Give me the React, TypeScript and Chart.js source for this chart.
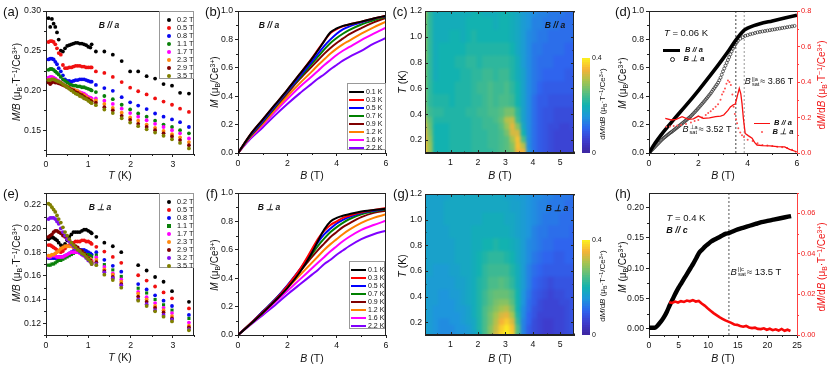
import React, { useEffect, useRef } from "react";
import { Chart, registerables } from "chart.js";
Chart.register(...registerables);

const FONT = "'Liberation Sans', Arial, sans-serif";
Chart.defaults.font.family = FONT;
Chart.defaults.color = "#111";

// ---------- panel (a) M/B vs T, B // a ----------
const tempA = [.06,.1,.14,.18,.22,.26,.3,.35,.4,.45,.5,.55,.6,.65,.7,.75,.8,.85,.9,.95,1,1.05,1.08,1.18,1.38,1.58,1.79,1.99,2.18,2.38,2.58,2.78,2.98,3.17,3.38];
const a02 = [.291,.28,.29,.284,.28,.273,.264,.25,.249,.253,.256,.257,.258,.259,.26,.26,.259,.259,.258,.257,.255,.254,.258,.249,.249,.245,.237,.224,.224,.218,.215,.208,.206,.197,.196];
const a05 = [.261,.262,.262,.261,.258,.253,.247,.245,.232,.228,.228,.229,.229,.23,.231,.231,.231,.23,.23,.229,.229,.229,.229,.224,.222,.217,.2105,.2035,.199,.195,.19,.186,.182,.177,.173];
const a08 = [.239,.24,.24,.239,.236,.233,.228,.224,.219,.214,.212,.212,.211,.212,.213,.213,.214,.214,.214,.213,.212,.211,.211,.207,.203,.1995,.1915,.185,.181,.1765,.171,.167,.1635,.16,.154];
const a11 = [.226,.227,.227,.226,.224,.222,.22,.217,.214,.212,.21,.208,.207,.206,.206,.205,.205,.204,.204,.203,.202,.201,.2,.198,.193,.189,.182,.176,.171,.167,.162,.157,.154,.15,.146];
const a17 = [.216,.217,.217,.216,.215,.213,.212,.21,.208,.206,.204,.203,.202,.2,.2,.199,.198,.197,.196,.194,.192,.191,.19,.19,.187,.183,.177,.1715,.167,.1625,.158,.154,.15,.146,.1395];
const a23 = [.213,.213,.214,.213,.212,.211,.21,.209,.207,.206,.205,.203,.202,.201,.2,.199,.197,.195,.194,.192,.19,.188,.187,.1875,.183,.178,.172,.166,.162,.157,.153,.149,.145,.141,.135];
const a29 = [.21,.208,.21,.211,.21,.21,.209,.208,.207,.206,.204,.203,.201,.2,.198,.197,.195,.194,.192,.19,.189,.187,.186,.1845,.179,.175,.168,.163,.158,.154,.15,.146,.142,.1375,.131];
const a35 = [.213,.213,.214,.214,.213,.212,.211,.21,.208,.206,.204,.202,.2,.198,.196,.195,.193,.192,.19,.189,.187,.185,.184,.1815,.176,.1715,.165,.1595,.155,.151,.147,.143,.1385,.134,.127];
const aLabels = ["0.2 T","0.5 T","0.8 T","1.1 T","1.7 T","2.3 T","2.9 T","3.5 T"];
const aSeries = [a02,a05,a08,a11,a17,a23,a29,a35];
const aColors = ["#000000","#f01010","#0808f0","#0a800a","#ff00ff","#ff8a10","#800000","#808000"];

// ---------- panel (e) M/B vs T, B perp a ----------
const tempE = [.06,.1,.14,.18,.22,.26,.3,.35,.4,.45,.5,.55,.6,.65,.7,.75,.8,.85,.9,.95,1,1.05,1.08,1.19,1.38,1.58,1.78,2.18,2.38,2.58,2.78,2.98,3.38];
const e02 = [.191,.192,.193,.192,.191,.19,.188,.186,.185,.187,.19,.193,.195,.197,.197,.197,.197,.198,.199,.199,.198,.197,.196,.193,.188,.185,.18,.169,.1645,.159,.155,.147,.138];
const e05 = [.186,.186,.185,.184,.183,.182,.181,.18,.181,.183,.185,.186,.187,.188,.189,.189,.189,.19,.19,.189,.189,.188,.187,.1845,.1805,.176,.171,.1605,.156,.151,.146,.141,.1325];
const e08 = [.175,.175,.175,.175,.175,.175,.176,.176,.176,.177,.178,.179,.18,.181,.181,.182,.182,.182,.182,.181,.18,.179,.178,.18,.1735,.1685,.1635,.153,.1485,.1435,.139,.1345,.127];
const e11 = [.169,.169,.17,.17,.171,.172,.173,.173,.174,.175,.176,.177,.178,.179,.18,.18,.18,.18,.179,.178,.178,.177,.176,.1775,.1695,.165,.1595,.1495,.1455,.14,.1355,.131,.124];
const e17 = [.176,.176,.177,.177,.177,.176,.176,.176,.176,.177,.178,.179,.18,.18,.18,.18,.179,.178,.177,.176,.175,.174,.173,.1755,.1675,.162,.157,.1465,.142,.137,.133,.1285,.1205];
const e23 = [.177,.177,.178,.178,.179,.18,.181,.183,.184,.185,.185,.185,.185,.184,.183,.182,.181,.18,.178,.177,.175,.174,.172,.1735,.1655,.161,.155,.145,.14,.1345,.131,.126,.118];
const e29 = [.193,.194,.195,.197,.198,.198,.197,.196,.194,.193,.191,.19,.188,.186,.185,.184,.182,.181,.179,.177,.175,.173,.171,.1715,.164,.159,.153,.1425,.138,.133,.129,.124,.1165];
const e32 = [.208,.209,.209,.209,.208,.206,.204,.2,.197,.194,.191,.189,.187,.185,.183,.182,.18,.178,.177,.175,.173,.172,.17,.17,.163,.158,.152,.14,.136,.131,.127,.123,.115];
const e35 = [.221,.22,.218,.216,.214,.211,.208,.205,.201,.197,.194,.191,.188,.186,.184,.182,.181,.179,.178,.176,.174,.172,.17,.169,.161,.1565,.15,.139,.1345,.13,.1255,.1215,.114];
const eLabels = ["0.2 T","0.5 T","0.8 T","1.1 T","1.7 T","2.3 T","2.9 T","3.2 T","3.5 T"];
const eSeries = [e02,e05,e08,e11,e17,e23,e29,e32,e35];
const eColors = ["#000000","#f01010","#0808f0","#0a800a","#ff00ff","#ff8a10","#800000","#8010f0","#808000"];

// ---------- panels (b), (f) M vs B ----------
const fieldGrid = [0,.5,1,1.5,2,2.5,3,3.25,3.5,3.75,4,4.25,4.5,5,5.5,6];
const bLabels = ["0.1 K","0.3 K","0.5 K","0.7 K","0.9 K","1.2 K","1.6 K","2.2 K"];
const lineColors = ["#000000","#ff0000","#0000ff","#008000","#800000","#ff8000","#ff00ff","#8000ff"];
const b01 = [0,.13,.235,.34,.445,.555,.665,.725,.79,.85,.877,.895,.905,.925,.947,.967];
const b03 = [0,.13,.235,.34,.445,.555,.668,.73,.79,.845,.873,.892,.905,.925,.947,.966];
const b05 = [0,.125,.225,.33,.435,.54,.645,.70,.755,.80,.84,.87,.89,.92,.945,.965];
const b07 = [0,.12,.22,.325,.43,.53,.63,.68,.73,.775,.81,.84,.865,.905,.935,.96];
const b09 = [0,.118,.215,.32,.42,.52,.61,.655,.70,.74,.775,.805,.835,.88,.92,.952];
const b12 = [0,.113,.205,.305,.40,.49,.575,.62,.66,.70,.735,.765,.79,.84,.885,.925];
const b16 = [0,.108,.195,.29,.38,.465,.54,.58,.62,.655,.69,.72,.745,.795,.84,.883];
const b22 = [0,.10,.18,.265,.345,.42,.49,.525,.555,.59,.62,.65,.675,.72,.77,.81];
const bSeries = [b01,b03,b05,b07,b09,b12,b16,b22];
const f01 = [0,.075,.155,.24,.33,.44,.58,.665,.745,.80,.825,.84,.85,.87,.88,.89];
const f03 = [0,.08,.16,.245,.345,.46,.605,.68,.735,.775,.80,.825,.84,.865,.88,.895];
const f05 = [0,.08,.165,.25,.35,.46,.59,.655,.71,.75,.785,.81,.83,.86,.875,.89];
const f07 = [0,.08,.165,.25,.345,.455,.57,.63,.68,.725,.76,.79,.815,.85,.87,.885];
const f09 = [0,.08,.16,.245,.34,.445,.55,.60,.645,.69,.725,.76,.785,.83,.86,.875];
const f12 = [0,.075,.155,.24,.33,.42,.51,.555,.60,.64,.675,.71,.74,.79,.825,.85];
const f16 = [0,.075,.15,.23,.31,.39,.47,.51,.55,.59,.625,.66,.69,.74,.775,.805];
const f22 = [0,.07,.14,.21,.285,.355,.425,.46,.50,.53,.565,.595,.625,.675,.71,.735];
const fSeries = [f01,f03,f05,f07,f09,f12,f16,f22];

// ---------- panel (d) ----------
const dParField = [0,.25,.5,1,1.5,2,2.5,3,3.25,3.5,3.7,3.86,4,4.25,4.5,5,5.5,6];
const dParM = [0,.07,.13,.235,.335,.44,.55,.665,.725,.79,.835,.865,.88,.897,.91,.93,.95,.97];
const dPerpField = [0,.05,.1,.15,.2,.25,.3,.35,.4,.45,.5,.55,.6,.65,.7,.75,.8,.85,.9,.95,1,1.05,1.1,1.15,1.2,1.25,1.3,1.35,1.4,1.45,1.5,1.55,1.6,1.65,1.7,1.75,1.8,1.85,1.9,1.95,2,2.05,2.1,2.15,2.2,2.25,2.3,2.35,2.4,2.45,2.5,2.55,2.6,2.65,2.7,2.75,2.8,2.85,2.9,2.95,3,3.05,3.1,3.15,3.2,3.25,3.3,3.35,3.4,3.45,3.5,3.55,3.6,3.7,3.8,3.9,4,4.1,4.2,4.3,4.4,4.5,4.6,4.7,4.8,4.9,5,5.1,5.2,5.3,5.4,5.5,5.6,5.7,5.8,5.9];
const dPerpM = [0,.009,.018,.027,.036,.045,.054,.063,.072,.081,.09,.098,.106,.113,.12,.127,.134,.141,.147,.153,.16,.167,.174,.181,.188,.195,.202,.209,.216,.223,.23,.237,.245,.252,.26,.269,.278,.287,.297,.306,.316,.326,.336,.346,.356,.366,.377,.387,.398,.409,.42,.432,.445,.457,.47,.482,.495,.512,.53,.552,.575,.595,.615,.635,.655,.675,.695,.715,.735,.75,.765,.778,.79,.805,.815,.825,.83,.836,.84,.845,.85,.853,.856,.859,.862,.865,.868,.871,.874,.877,.88,.883,.886,.889,.892,.895];
const dLineField = [.66,.9,1.1,1.34,1.6,1.8,2,2.2,2.45,2.7,2.9,3.03,3.2,3.3,3.42,3.5,3.58,3.66,3.72,3.77,3.83,3.9,4.02,4.18,4.28,4.38,4.6,4.9,5.2,5.5,5.7,5.98];
const dLineDmdb = [.195,.186,.19,.205,.19,.192,.208,.195,.198,.205,.208,.214,.24,.26,.272,.276,.32,.364,.335,.28,.19,.11,.098,.083,.06,.045,.042,.04,.036,.034,.02,.007];
const dDotField = [.7,.85,1,1.15,1.3,1.5,1.7,1.85,2,2.15,2.3,2.4,2.5,2.6,2.7,2.8,2.9,2.96,3.02,3.08,3.14,3.2,3.26,3.32,3.38,3.43,3.48,3.53,3.57,3.62,3.7,3.77,3.85,4,4.2,4.4,4.6,4.8,5,5.2,5.4,5.6,5.8,5.95];
const dDotDmdb = [.148,.15,.152,.155,.158,.163,.172,.18,.186,.2,.214,.225,.235,.248,.26,.275,.30,.33,.345,.364,.39,.408,.40,.383,.33,.26,.22,.19,.167,.14,.115,.10,.09,.075,.068,.055,.045,.042,.04,.035,.032,.028,.018,.007];

// ---------- panel (h) ----------
const hField = [0,.5,1,1.3,2,2.5,3,3.5,4,4.5,5,5.5,6,6.5,7,7.5,8,8.5,9,9.5,10,10.5,11,12,13,13.5,14,15,16,17,18,19,20,21,22,23,24];
const hM = [.002,.002,.002,.004,.012,.019,.028,.039,.049,.059,.068,.076,.084,.092,.10,.108,.117,.126,.131,.136,.14,.144,.147,.152,.157,.158,.16,.164,.167,.17,.173,.176,.178,.18,.182,.184,.186];
const hDmdbField = [3.4,3.9,4.4,4.9,5.4,5.9,6.4,6.9,7.4,7.9,8.4,8.9,9.4,9.9,10.4,10.9,11.4,11.9,12.4,12.9,13.4,13.9,14.4,14.9,15.4,15.9,16.4,16.9,17.4,17.9,18.4,18.9,19.4,19.9,20.4,20.9,21.4,21.9,22.4,22.9,23.4,23.9];
const hDmdb = [.0162,.0158,.0165,.016,.0167,.0163,.017,.0166,.0172,.0165,.0168,.0155,.0145,.0132,.012,.0108,.0098,.0088,.008,.0072,.0066,.006,.0052,.005,.0044,.0041,.0045,.0037,.0034,.0036,.003,.0029,.0033,.0026,.0031,.0024,.0028,.0022,.003,.0021,.0026,.002];

// ---------- heatmaps (c), (g): dM/dB x 100 ----------
const mapField = [.1,.3,.5,.7,.9,1.1,1.3,1.5,1.7,1.9,2.1,2.3,2.5,2.7,2.9,3.1,3.3,3.5,3.7,3.9,4.1,4.3,4.5,4.7,4.9,5.1,5.3,5.5];
const mapTemp = [.1,.15,.2,.25,.3,.35,.4,.5,.6,.7,.8,.9,1,1.1,1.2];
const mapC = [
  [36,29,20,20,20,21,21,21,21,22,22,22,22,23,24,25,27,35,35,15,11,9,8,7,6,6,6,6],
  [36,29,20,20,20,21,21,21,21,22,22,22,23,23,24,25,28,36,31,14,11,9,8,7,6,6,6,6],
  [35,28,20,20,20,21,21,21,21,22,22,22,23,23,24,25,30,36,24,14,11,9,8,7,6,6,6,6],
  [34,27,20,20,20,21,21,21,21,22,22,22,23,23,24,27,33,33,20,14,11,9,8,7,6,6,6,6],
  [33,26,20,20,20,21,21,21,21,22,22,23,23,23,25,29,34,28,18,14,11,9,8,7,7,6,6,7],
  [31,25,21,21,21,21,21,21,21,22,22,23,23,24,26,31,32,23,17,14,11,9,8,8,7,7,7,7],
  [28,23,22,22,21,21,21,21,22,22,23,23,24,24,25,27,27,22,17,14,11,9,8,8,7,7,7,7],
  [27,22,21,21,21,20,21,21,21,22,22,23,24,23,24,24,23,20,17,14,11,9,9,8,8,8,8,8],
  [27,22,20,20,20,20,21,21,21,22,23,23,24,23,23,24,22,20,17,14,12,10,9,9,9,9,9,9],
  [27,22,19,20,20,20,20,21,21,22,22,23,23,22,23,23,21,19,17,14,12,11,10,10,10,10,9,9],
  [28,22,19,20,20,20,21,21,22,22,21,22,22,22,22,22,21,19,16,14,12,11,11,11,10,10,10,10],
  [28,22,19,20,20,20,20,20,21,21,21,21,21,21,21,21,20,18,16,14,12,12,11,11,11,11,10,10],
  [28,22,19,19,19,20,20,19,20,21,20,20,20,20,20,20,19,18,16,14,13,12,12,11,11,11,11,11],
  [28,22,19,19,19,19,19,19,20,20,20,20,20,19,20,20,19,18,16,15,13,13,12,12,12,11,11,11],
  [29,22,19,19,19,19,19,19,19,20,20,19,19,19,20,20,19,18,16,15,14,13,13,12,12,12,11,11],
];
const mapG = [
  [17,16,15,14,14,14,15,15,16,17,20,24,28,33,38,40,37,24,13,9,7,6,5,5,6,6,7,8],
  [17,16,15,14,14,14,15,15,16,18,21,24,28,32,37,39,36,24,13,9,7,6,5,5,6,6,7,8],
  [17,16,15,14,14,15,15,16,17,18,21,24,27,31,35,37,33,22,13,10,7,6,5,5,6,6,7,8],
  [17,16,15,15,15,15,15,16,17,19,21,24,27,30,33,34,30,21,14,10,8,6,6,6,6,6,7,8],
  [17,16,15,15,15,15,16,16,17,19,21,24,26,28,30,31,27,20,14,11,8,7,6,6,6,6,7,8],
  [17,16,16,15,15,15,16,17,18,19,21,23,25,27,28,28,25,20,15,11,9,7,6,6,6,7,7,8],
  [17,16,16,15,15,16,16,17,18,19,21,23,25,26,26,26,24,20,15,12,9,8,7,6,7,7,8,8],
  [17,16,16,16,16,16,17,17,18,19,21,22,24,24,25,24,22,19,16,13,10,9,8,7,8,8,8,8],
  [17,17,16,16,16,17,17,18,18,19,20,22,23,23,23,23,21,19,16,13,11,10,9,9,9,9,9,9],
  [17,17,17,17,17,17,18,18,18,19,20,21,22,22,22,21,20,18,16,14,12,11,10,10,9,9,10,10],
  [17,17,17,17,17,17,18,18,18,19,19,20,20,21,20,20,19,18,16,14,13,12,11,11,10,10,10,10],
  [17,17,17,17,17,18,18,18,18,19,19,19,19,19,19,19,18,17,16,15,13,12,12,11,11,11,11,10],
  [17,17,17,17,18,18,18,18,18,18,18,19,19,19,19,18,18,17,16,15,14,13,12,12,12,11,11,11],
  [17,17,17,17,18,18,18,18,18,18,18,18,18,18,18,18,17,17,16,15,14,13,13,12,12,12,11,11],
  [17,17,17,17,17,18,18,18,18,18,18,18,18,18,18,17,17,16,16,15,14,14,13,13,12,12,12,11],
];

// colour map stops: [value, r, g, b]
const cmap = [[0,62,38,160],[5,62,60,205],[10,47,100,238],[15,30,150,220],[20,18,178,176],[25,88,190,128],[30,165,196,80],[35,246,178,56],[40,252,244,30]];
function colorOf(v: number) {
  for (let i = 1; i < cmap.length; i++) {
    if (v <= cmap[i][0]) {
      const a = cmap[i - 1], b = cmap[i], t = (v - a[0]) / (b[0] - a[0]);
      return `rgb(${a[1] + t * (b[1] - a[1])},${a[2] + t * (b[2] - a[2])},${a[3] + t * (b[3] - a[3])})`;
    }
  }
  return "rgb(252,244,30)";
}
const barLevels = [0,1,2,3,4,5,6,7,8,9,10,11,12,13,14,15,16,17,18,19,20,21,22,23,24,25,26,27,28,29,30,31,32,33,34,35,36,37,38,39];

// ---------- axis ticks ----------
const TICK = { size: 8.7 };
const TICK_RIGHT = { size: 7.4 };
const INK = "#222";
const RED = "#ff4040";

function minorOf(major: number[], min: number, max: number) {
  const step = (major[1] - major[0]) / 2, out: number[] = [];
  for (let v = major[0] - step; v >= min - 1e-9; v -= step * 2) out.push(v);
  major.forEach((m) => { if (m + step <= max + 1e-9) out.push(m + step); });
  return out;
}

function axis(min: number, max: number, major: number[], digits: number, extra: any = {}) {
  const color = extra.color || "#111";
  const tickColor = extra.tickColor || INK;
  return {
    type: "linear", min, max,
    afterBuildTicks: (s: any) => { s.ticks = major.map((value) => ({ value })); },
    afterFit: (s: any) => { if (extra.h !== undefined) s.height = extra.h; if (extra.w !== undefined) s.width = extra.w; },
    ticks: { callback: (v: number) => (v === 0 && extra.zero) ? "0" : v.toFixed(digits), autoSkip: false, maxRotation: 0, padding: extra.padding ?? 2, font: extra.font || TICK, color },
    grid: { drawOnChartArea: false, drawTicks: !extra.inside, tickLength: 3, tickColor, lineWidth: 1 },
    border: { color: tickColor, width: 1 },
  };
}

// Frame, minor ticks and the smoothing of the raster cells.
function framePlugin(cfg: any) {
  return {
    id: "frame",
    afterDatasetsDraw(chart: any) {
      if (!cfg.blur) return;
      const { left, top, width, height } = chart.chartArea, ctx = chart.ctx;
      ctx.save();
      ctx.beginPath(); ctx.rect(left, top, width, height); ctx.clip();
      ctx.filter = `blur(${cfg.blur}px)`;
      ctx.drawImage(chart.canvas, left, top, width, height, left, top, width, height);
      ctx.restore();
    },
    afterDraw(chart: any) {
      const { left, right, top, bottom } = chart.chartArea, ctx = chart.ctx;
      const seg = (x0: number, y0: number, x1: number, y1: number, col: string) => {
        ctx.strokeStyle = col; ctx.beginPath(); ctx.moveTo(x0, y0); ctx.lineTo(x1, y1); ctx.stroke();
      };
      ctx.save(); ctx.lineWidth = 1;
      const xs = chart.scales.x, ys = chart.scales.y, yr = chart.scales.y2;
      const xm = xs.ticks.map((t: any) => t.value), ym = ys.ticks.map((t: any) => t.value);
      minorOf(xm, xs.min, xs.max).forEach((v) => {
        const p = Math.round(xs.getPixelForValue(v)) + .5;
        if (cfg.inside) { seg(p, bottom, p, bottom - 1.5, INK); seg(p, top, p, top + 1.5, INK); }
        else seg(p, bottom, p, bottom + 2, INK);
      });
      minorOf(ym, ys.min, ys.max).forEach((v) => {
        const p = Math.round(ys.getPixelForValue(v)) + .5;
        if (cfg.inside) { seg(left, p, left + 1.5, p, INK); seg(right, p, right - 1.5, p, INK); }
        else seg(left, p, left - 2, p, INK);
      });
      if (cfg.inside) {
        xm.forEach((v: number) => { const p = Math.round(xs.getPixelForValue(v)) + .5; seg(p, bottom, p, bottom - 3, INK); seg(p, top, p, top + 3, INK); });
        ym.forEach((v: number) => { const p = Math.round(ys.getPixelForValue(v)) + .5; seg(left, p, left + 3, p, INK); seg(right, p, right - 3, p, INK); });
      }
      if (yr) {
        minorOf(yr.ticks.map((t: any) => t.value), yr.min, yr.max).forEach((v) => {
          const p = Math.round(yr.getPixelForValue(v)) + .5;
          seg(right, p, right + 2, p, RED);
        });
      }
      seg(left, top + .5, right, top + .5, INK);
      if (!yr) seg(right - .5, top, right - .5, bottom, INK);
      if (cfg.inside) { seg(left + .5, top, left + .5, bottom, INK); seg(left, bottom - .5, right, bottom - .5, INK); }
      ctx.restore();
    },
  };
}

const pairs = (xs: number[], ys: number[]) => xs.map((x, i) => ({ x, y: ys[i] }));

function box(L: number, R: number, T: number, B: number, rightW = 8) {
  const cx = L - 42, cy = T - 10, cw = R - L + 42 + rightW, ch = B - T + 10 + 22;
  return { L, R, T, B, cx, cy, cw, ch, yw: 42, xh: 22, rightW };
}

function scatterPanel(b: any, xs: number[], series: number[][], labels: string[], colors: string[], xa: any, ya: any, rectIndex = -1) {
  const n = series.length;
  return {
    type: "scatter",
    data: {
      datasets: series.map((s, i) => ({
        label: labels[i], data: pairs(xs, s), backgroundColor: colors[i], borderColor: colors[i],
        pointRadius: i === rectIndex ? 2.2 : 1.9, pointBorderWidth: 0, pointStyle: i === rectIndex ? "rect" : "circle", order: n - i,
      })),
    },
    options: {
      responsive: false, animation: false, events: [],
      layout: { padding: { top: 10, right: b.rightW, left: 0, bottom: 0 } },
      scales: { x: axis(xa.min, xa.max, xa.major, 0, { h: b.xh }), y: axis(ya.min, ya.max, ya.major, ya.digits, { w: b.yw }) },
      plugins: { tooltip: { enabled: false }, legend: { display: false } },
    },
    plugins: [framePlugin({})],
  };
}

function linePanel(b: any, series: number[][], ticksY: number[]) {
  return {
    type: "line",
    data: {
      datasets: series.map((s, i) => ({
        label: bLabels[i], data: pairs(fieldGrid, s), borderColor: lineColors[i], backgroundColor: lineColors[i],
        borderWidth: 2, pointRadius: 0, cubicInterpolationMode: "monotone", fill: false,
      })),
    },
    options: {
      responsive: false, animation: false, events: [],
      layout: { padding: { top: 10, right: b.rightW } },
      scales: { x: axis(0, 6, [0,2,4,6], 0, { h: b.xh }), y: axis(0, 1, ticksY, 1, { w: b.yw }) },
      plugins: { tooltip: { enabled: false }, legend: { display: false } },
    },
    plugins: [framePlugin({})],
  };
}

function heatPanel(b: any, grid: number[][]) {
  const edge = (i: number) => i === 0 ? .05 : (mapTemp[i] + mapTemp[i - 1]) / 2;
  return {
    type: "bar",
    data: {
      datasets: grid.map((row, i) => ({
        label: "T " + mapTemp[i],
        data: row.map((_v, j) => ({ x: mapField[j], y: [edge(i), i === mapTemp.length - 1 ? 1.25 : edge(i + 1)] })),
        backgroundColor: row.map((v) => colorOf(v)),
        borderWidth: 0, grouped: false, barThickness: 7, inflateAmount: .6,
      })),
    },
    options: {
      responsive: false, animation: false, events: [],
      layout: { padding: { top: 10, right: b.rightW } },
      scales: {
        x: { ...axis(.07, 5.5, [1,2,3,4,5], 0, { h: b.xh, inside: true, padding: 4 }), offset: false },
        y: axis(.1, 1.2, [.2,.4,.6,.8,1,1.2], 1, { w: b.yw, inside: true, padding: 3 }),
      },
      plugins: { tooltip: { enabled: false }, legend: { display: false } },
    },
    plugins: [framePlugin({ inside: true, blur: 1.6 })],
  };
}

function colorBar(b: any) {
  return {
    type: "bar",
    data: {
      labels: ["dM/dB"],
      datasets: barLevels.map((v) => ({
        label: String(v), data: [[v / 100, (v + 1) / 100]], backgroundColor: colorOf(v + .5), borderWidth: 0,
        grouped: false, barPercentage: 1, categoryPercentage: 1, inflateAmount: .5,
      })),
    },
    options: {
      responsive: false, animation: false, events: [],
      layout: { padding: { top: 10, bottom: 10, left: 2, right: 0 } },
      scales: {
        x: { display: false },
        y: { ...axis(0, .4, [0,.4], 1, { zero: true, w: 16, padding: 2, font: { size: 7 } }), position: "right",
             grid: { display: false, drawTicks: false }, border: { display: false } },
      },
      plugins: { tooltip: { enabled: false }, legend: { display: false } },
    },
  };
}

const PANELS: { b: any; cfg: (b: any) => any }[] = [
  { b: box(46, 194, 11, 154), cfg: (b) => scatterPanel(b, tempA, aSeries, aLabels, aColors,
      { min: 0, max: 3.5, major: [0,1,2,3] }, { min: .12, max: .3, major: [.15,.2,.25,.3], digits: 2 }) },
  { b: box(238, 386, 11, 153), cfg: (b) => linePanel(b, bSeries, [0,.2,.4,.6,.8,1]) },
  { b: box(425, 574, 11, 153), cfg: (b) => heatPanel(b, mapC) },
  { b: box(46, 194, 193, 335), cfg: (b) => scatterPanel(b, tempE, eSeries, eLabels, eColors,
      { min: 0, max: 3.5, major: [0,1,2,3] }, { min: .11, max: .23, major: [.12,.14,.16,.18,.2,.22], digits: 2 }, 3) },
  { b: box(238, 386, 193, 335), cfg: (b) => linePanel(b, fSeries, [0,.2,.4,.6,.8,1]) },
  { b: box(425, 574, 194, 335), cfg: (b) => heatPanel(b, mapG) },
  { b: box(649, 797, 11, 153, 26), cfg: (b) => ({
      type: "scatter",
      data: { datasets: [
        { label: "3.52", data: [{ x: 3.52, y: 0 }, { x: 3.52, y: 1 }], showLine: true, borderColor: "#444", borderWidth: 1, borderDash: [2, 2], pointRadius: 0, order: 5 },
        { label: "3.86", data: [{ x: 3.86, y: 0 }, { x: 3.86, y: 1 }], showLine: true, borderColor: "#999", borderWidth: 1, borderDash: [2, 2], pointRadius: 0, order: 5 },
        { label: "B // a", data: pairs(dParField, dParM), showLine: true, borderColor: "#000", borderWidth: 3.6, pointRadius: 0, cubicInterpolationMode: "monotone", yAxisID: "y", order: 2 },
        { label: "B ⊥ a", data: pairs(dPerpField, dPerpM), showLine: false, borderColor: "#222", backgroundColor: "rgba(255,255,255,0)", pointBorderWidth: .7, pointRadius: 1.5, yAxisID: "y", order: 3 },
        { label: "dM/dB // a", data: pairs(dLineField, dLineDmdb), showLine: true, borderColor: "#f81010", borderWidth: 1.3, pointRadius: 0, yAxisID: "y2", order: 0 },
        { label: "dM/dB ⊥ a", data: pairs(dDotField, dDotDmdb), showLine: false, backgroundColor: "#ff5050", pointBorderWidth: 0, pointRadius: 1, yAxisID: "y2", order: 1 },
      ] },
      options: {
        responsive: false, animation: false, events: [],
        layout: { padding: { top: 10 } },
        scales: {
          x: axis(0, 6, [0,2,4,6], 0, { h: b.xh }),
          y: axis(0, 1, [0,.2,.4,.6,.8,1], 1, { w: b.yw }),
          y2: { ...axis(0, .8, [0,.2,.4,.6,.8], 1, { w: 26, color: "#f01818", tickColor: RED, font: TICK_RIGHT, padding: 1 }), position: "right" },
        },
        plugins: { tooltip: { enabled: false }, legend: { display: false } },
      },
      plugins: [framePlugin({})],
    }) },
  { b: box(649, 797, 193, 335, 26), cfg: (b) => ({
      type: "scatter",
      data: { datasets: [
        { label: "13.5", data: [{ x: 13.5, y: -.01 }, { x: 13.5, y: .224 }], showLine: true, borderColor: "#555", borderWidth: 1, borderDash: [2, 2], pointRadius: 0, order: 5 },
        { label: "M", data: pairs(hField, hM), showLine: true, borderColor: "#000", borderWidth: 4.4, pointRadius: 0, cubicInterpolationMode: "monotone", yAxisID: "y", order: 2 },
        { label: "dM/dB", data: pairs(hDmdbField, hDmdb), showLine: true, borderColor: "#f80808", borderWidth: 2.6, pointRadius: 0, yAxisID: "y2", order: 1 },
      ] },
      options: {
        responsive: false, animation: false, events: [],
        layout: { padding: { top: 10 } },
        scales: {
          x: axis(0, 25, [0,5,10,15,20,25], 0, { h: b.xh }),
          y: axis(-.01, .224, [0,.05,.1,.15,.2], 2, { w: b.yw }),
          y2: { ...axis(0, .07, [0,.02,.04,.06], 2, { w: 26, color: "#f01818", tickColor: RED, font: TICK_RIGHT, padding: 1 }), position: "right" },
        },
        plugins: { tooltip: { enabled: false }, legend: { display: false } },
      },
      plugins: [framePlugin({})],
    }) },
  { b: { cx: 580, cy: 48, cw: 26, ch: 115 }, cfg: colorBar },
  { b: { cx: 580, cy: 230, cw: 26, ch: 115 }, cfg: colorBar },
];

function ChartCanvas({ b, cfg }: { b: any; cfg: (b: any) => any }) {
  const ref = useRef<HTMLCanvasElement>(null);
  useEffect(() => {
    const chart = new Chart(ref.current as any, cfg(b));
    return () => chart.destroy();
  }, []);
  return <canvas ref={ref} width={b.cw} height={b.ch} style={{ position: "absolute", left: b.cx, top: b.cy, width: b.cw, height: b.ch }} />;
}

// ---------- legends ----------
function Legend({ x, y, w, h, labels, colors, kind, swX, txtX, rowH, size, rectIndex = -1 }: any) {
  return (
    <div style={{ position: "absolute", left: x, top: y, width: w, height: h, border: "1px solid #999", boxSizing: "border-box" }}>
      {labels.map((t: string, i: number) => {
        const cy = 3.6 + rowH * i + (rowH - 8) / 2;
        return (
          <React.Fragment key={t}>
            {kind === "dot"
              ? <div style={{ position: "absolute", left: swX - 2, top: cy + 2, width: 4, height: 4, borderRadius: i === rectIndex ? 0 : "50%", background: colors[i] }} />
              : <div style={{ position: "absolute", left: swX, top: cy + 3, width: 15, height: 2, background: colors[i] }} />}
            <div style={{ position: "absolute", left: txtX, top: cy, fontFamily: FONT, fontSize: size, lineHeight: "8px", color: "#111", whiteSpace: "nowrap" }}>{t}</div>
          </React.Fragment>
        );
      })}
    </div>
  );
}

// ---------- text overlay ----------
const S = ({ children }: any) => <span style={{ fontSize: "68%", position: "relative", top: "0.28em" }}>{children}</span>;
const P = ({ children }: any) => <span style={{ fontSize: "68%", position: "relative", top: "-0.38em" }}>{children}</span>;
const I = ({ children }: any) => <i>{children}</i>;
const Sat = ({ up }: any) => (
  <span style={{ display: "inline-flex", flexDirection: "column", fontSize: "62%", lineHeight: "0.85em", verticalAlign: "middle", margin: "0 1px" }}>
    <span>{up}</span><span>sat</span>
  </span>
);

function T({ x, y, size = 10, rot = 0, color = "#111", bold = false, children }: any) {
  return (
    <div style={{
      position: "absolute", left: x, top: y, transform: `translate(-50%,-50%) rotate(${rot}deg)`, whiteSpace: "nowrap",
      fontFamily: FONT, fontSize: size, color, fontWeight: bold ? 700 : 400, lineHeight: 1,
    }}>{children}</div>
  );
}
const ParA = () => <i>B // a</i>;
const PerpA = () => <i>B ⊥ a</i>;
const MB = () => <><I>M/B</I> (μ<S>B</S>·T<P>−1</P>/Ce<P>3+</P>)</>;
const MU = () => <><I>M</I> (μ<S>B</S>/Ce<P>3+</P>)</>;
const DM = () => <>d<I>M</I>/d<I>B</I> (μ<S>B</S>·T<P>−1</P>/Ce<P>3+</P>)</>;
const bT = () => <><I>B</I> (T)</>;
const tK = () => <><I>T</I> (K)</>;

function Texts() {
  const ax = 10.5, ay = 10;
  return (
    <>
      <T x={11} y={11} size={13}>(a)</T><T x={213} y={11} size={13}>(b)</T><T x={400} y={11} size={13}>(c)</T><T x={623} y={11} size={13}>(d)</T>
      <T x={11} y={193} size={13}>(e)</T><T x={212} y={193} size={13}>(f)</T><T x={401} y={193} size={13}>(g)</T><T x={623} y={193} size={13}>(h)</T>

      <T x={120} y={175} size={ax}>{tK()}</T><T x={312} y={175} size={ax}>{bT()}</T><T x={500} y={175} size={ax}>{bT()}</T><T x={723} y={175} size={ax}>{bT()}</T>
      <T x={120} y={357} size={ax}>{tK()}</T><T x={312} y={358} size={ax}>{bT()}</T><T x={500} y={358} size={ax}>{bT()}</T><T x={723} y={358} size={ax}>{bT()}</T>

      <T x={17} y={82} size={ay} rot={-90}><MB /></T><T x={17} y={263} size={ay} rot={-90}><MB /></T>
      <T x={215} y={82} size={ay} rot={-90}><MU /></T><T x={215} y={265} size={ay} rot={-90}><MU /></T>
      <T x={402} y={82} size={ax} rot={-90}>{tK()}</T><T x={402} y={266} size={ax} rot={-90}>{tK()}</T>
      <T x={623} y={83} size={ay} rot={-90}><MU /></T><T x={623} y={267} size={ay} rot={-90}><MU /></T>
      <T x={822} y={85} size={ay} rot={-90} color="#f01818"><DM /></T><T x={822} y={267} size={ay} rot={-90} color="#f01818"><DM /></T>
      <T x={603} y={104} size={8} rot={-90}><DM /></T><T x={603} y={286} size={8} rot={-90}><DM /></T>

      <T x={109} y={25} size={8.5} bold><ParA /></T><T x={269} y={25} size={8.5} bold><ParA /></T><T x={555} y={25} size={8.5} bold><ParA /></T>
      <T x={100} y={207} size={8.5} bold><PerpA /></T><T x={269} y={207} size={8.5} bold><PerpA /></T><T x={557} y={208} size={8.5} bold><PerpA /></T>

      <T x={686} y={33} size={9.5}><I>T</I> = 0.06 K</T>
      <div style={{ position: "absolute", left: 663, top: 48.5, width: 17, height: 3, background: "#000" }} />
      <T x={694} y={50} size={7.5} bold><ParA /></T>
      <div style={{ position: "absolute", left: 670, top: 57, width: 3, height: 3, border: "0.7px solid #222", borderRadius: "50%" }} />
      <T x={694} y={59} size={7.5} bold><PerpA /></T>
      <T x={769} y={82} size={9}><I>B</I><Sat up="||a" />≈ 3.86 T</T>
      <T x={707} y={130} size={9}><I>B</I><Sat up="⊥a" />≈ 3.52 T</T>
      <div style={{ position: "absolute", left: 754, top: 122.5, width: 16, height: 1.3, background: "#f81010" }} />
      <T x={783} y={123} size={7.5} bold><ParA /></T>
      <div style={{ position: "absolute", left: 761, top: 131, width: 2, height: 2, background: "#ff5050", borderRadius: "50%" }} />
      <T x={783} y={132} size={7.5} bold><PerpA /></T>

      <T x={686} y={218} size={9.5}><I>T</I> = 0.4 K</T>
      <T x={677} y={230} size={9} bold><i>B // c</i></T>
      <T x={756} y={272} size={9.5}><I>B</I><Sat up="||c" />≈ 13.5 T</T>
    </>
  );
}

export default function App() {
  return (
    <div style={{ position: "fixed", left: 0, top: 0, width: 831, height: 365, background: "#fff", overflow: "hidden", filter: "blur(0.35px)" }}>
      {PANELS.map((p, i) => <ChartCanvas key={i} b={p.b} cfg={p.cfg} />)}
      <Legend x={159} y={11} w={35} h={68} labels={aLabels} colors={aColors} kind="dot" swX={9} txtX={17} rowH={8.1} size={7.3} />
      <Legend x={159} y={193} w={35} h={75} labels={eLabels} colors={eColors} kind="dot" swX={9} txtX={17} rowH={8} size={7.3} rectIndex={3} />
      <Legend x={347} y={83} w={39} h={67} labels={bLabels} colors={lineColors} kind="line" swX={1} txtX={18} rowH={8.1} size={7} />
      <Legend x={349} y={261} w={36} h={68} labels={bLabels} colors={lineColors} kind="line" swX={1} txtX={18} rowH={8.1} size={7} />
      <Texts />
    </div>
  );
}
